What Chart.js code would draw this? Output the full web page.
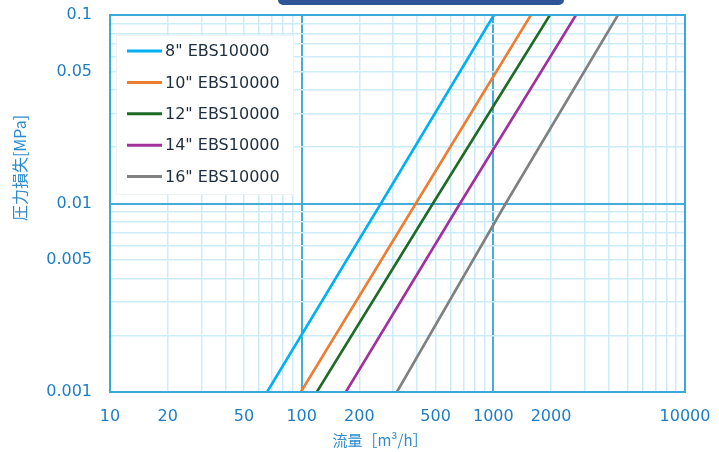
<!DOCTYPE html>
<html>
<head>
<meta charset="utf-8">
<script src="https://cdn.jsdelivr.net/npm/chart.js@4.4.1/dist/chart.umd.min.js"></script>
<style>
  html, body { margin: 0; padding: 0; background: #fff; }
  #wrap { position: relative; width: 719px; height: 452px; }
  #tab { position: absolute; left: 278px; top: 0; width: 286px; height: 5px; background: #2F5597; border-radius: 0 0 8px 8px; }
</style>
</head>
<body>
<div id="wrap">
  <canvas id="myChart" width="719" height="452"></canvas>
  <div id="tab"></div>
</div>
<script>
// pressure loss [MPa] at which flows were read
const pressure = [0.001, 0.01, 0.1];

const seriesNames = ['8" EBS10000', '10" EBS10000', '12" EBS10000', '14" EBS10000', '16" EBS10000'];
const seriesColors = ['#00B0F0', '#ED7D31', '#1E6B26', '#A2309C', '#808080'];

// flow [m3/h] for each pressure value
const flow8 = [66, 259, 1007];
const flow10 = [99, 394, 1570];
const flow12 = [120, 484, 1973];
const flow14 = [170, 670, 2698];
const flow16 = [314, 1160, 4467];

const xGridValues = [10, 20, 30, 40, 50, 60, 70, 80, 90, 100, 200, 300, 400, 500, 600, 700, 800, 900,
  1000, 2000, 3000, 4000, 5000, 6000, 7000, 8000, 9000, 10000];
const xTickLabels = [10, 20, 50, 100, 200, 500, 1000, 2000, 10000];
const yGridValues = [0.001, 0.002, 0.003, 0.004, 0.005, 0.006, 0.007, 0.008, 0.009,
  0.01, 0.02, 0.03, 0.04, 0.05, 0.06, 0.07, 0.08, 0.09, 0.1];
const yTickLabels = ['0.001', '0.005', '0.01', '0.05', '0.1'];
const xMajor = [100, 1000];
const yMajor = [0.01];

const allFlows = [flow8, flow10, flow12, flow14, flow16];

const near = (a, b) => Math.abs(a - b) < b * 1e-6;

const minorGrid = '#CDECF9';
const majorGrid = '#45ACDA';
const tickColor = '#1F7EC2';

// frame round the plot area
const framePlugin = {
  id: 'frame',
  afterDatasetsDraw(chart) {
    const a = chart.chartArea, ctx = chart.ctx;
    ctx.save();
    ctx.strokeStyle = '#3AA8DC';
    ctx.lineWidth = 2;
    ctx.strokeRect(a.left, a.top, a.right - a.left, a.bottom - a.top);
    ctx.restore();
  }
};

// legend box in the top-left of the plot
const boxLegend = {
  id: 'boxLegend',
  afterDraw(chart) {
    const ctx = chart.ctx;
    ctx.save();
    ctx.fillStyle = '#fff';
    ctx.fillRect(116, 35, 178, 160);
    ctx.strokeStyle = '#EEF3F6';
    ctx.lineWidth = 1;
    ctx.strokeRect(116.5, 35.5, 177, 159);
    ctx.font = '16px "DejaVu Sans"';
    ctx.textBaseline = 'middle';
    chart.data.datasets.forEach((ds, i) => {
      const y = 51 + i * 31.4;
      ctx.strokeStyle = ds.borderColor;
      ctx.lineWidth = 3;
      ctx.beginPath();
      ctx.moveTo(127, y);
      ctx.lineTo(162, y);
      ctx.stroke();
      ctx.fillStyle = '#1F2E3E';
      ctx.fillText(ds.label, 165, y + 1);
    });
    ctx.restore();
  }
};

// axis titles
const axisTitles = {
  id: 'axisTitles',
  afterDraw(chart) {
    const ctx = chart.ctx;
    ctx.save();
    ctx.fillStyle = '#2E8BCB';
    ctx.textAlign = 'center';
    ctx.textBaseline = 'middle';
    ctx.font = '15px "Noto Sans CJK JP"';
    ctx.fillText('流量［m³/h］', 380, 440);
    ctx.font = '16px "Noto Sans CJK JP"';
    ctx.translate(20, 168);
    ctx.rotate(-Math.PI / 2);
    ctx.fillText('圧力損失[MPa]', 0, 0);
    ctx.restore();
  }
};

const ctx = document.getElementById('myChart');

new Chart(ctx, {
  type: 'scatter',
  data: {
    datasets: allFlows.map((f, i) => ({
      label: seriesNames[i],
      data: f.map((q, j) => ({ x: q, y: pressure[j] })),
      showLine: true,
      borderColor: seriesColors[i],
      backgroundColor: seriesColors[i],
      borderWidth: 2.6,
      pointRadius: 0,
      tension: 0
    }))
  },
  options: {
    responsive: false,
    animation: false,
    layout: { padding: { top: 15, right: 34, left: 0, bottom: 0 } },
    plugins: {
      legend: { display: false },
      tooltip: { enabled: false }
    },
    scales: {
      x: {
        type: 'logarithmic',
        min: 10,
        max: 10000,
        afterBuildTicks(scale) {
          scale.ticks = xGridValues.map(v => ({ value: v }));
        },
        afterFit(scale) {
          scale.height = 60;
          scale.paddingLeft = 0;
          scale.paddingRight = 0;
        },
        ticks: {
          autoSkip: false,
          maxRotation: 0,
          padding: 15,
          color: tickColor,
          font: { family: 'DejaVu Sans', size: 16 },
          callback(v) {
            return xTickLabels.some(t => near(v, t)) ? String(Math.round(v)) : '';
          }
        },
        grid: {
          drawTicks: false,
          color: c => (c.tick && xMajor.some(t => near(c.tick.value, t))) ? majorGrid : minorGrid,
          lineWidth: c => (c.tick && xMajor.some(t => near(c.tick.value, t))) ? 2 : 1.5
        },
        border: { display: false }
      },
      y: {
        type: 'logarithmic',
        min: 0.001,
        max: 0.1,
        afterBuildTicks(scale) {
          scale.ticks = yGridValues.map(v => ({ value: v }));
        },
        afterFit(scale) {
          scale.width = 110;
          scale.paddingTop = 0;
          scale.paddingBottom = 0;
        },
        ticks: {
          autoSkip: false,
          padding: 18,
          color: tickColor,
          font: { family: 'DejaVu Sans', size: 16 },
          callback(v) {
            const lab = yTickLabels.find(t => near(v, parseFloat(t)));
            return lab || '';
          }
        },
        grid: {
          drawTicks: false,
          color: c => (c.tick && yMajor.some(t => near(c.tick.value, t))) ? majorGrid : minorGrid,
          lineWidth: c => (c.tick && yMajor.some(t => near(c.tick.value, t))) ? 2 : 1.5
        },
        border: { display: false }
      }
    }
  },
  plugins: [framePlugin, boxLegend, axisTitles]
});
</script>
</body>
</html>
